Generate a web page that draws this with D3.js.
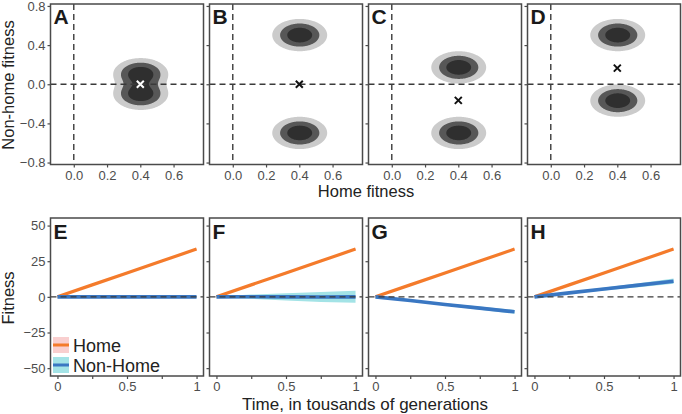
<!DOCTYPE html>
<meta charset="utf-8">
<html>
<head>
  <script src="https://d3js.org/d3.v7.min.js" charset="utf-8"></script>
  <style>
    body { margin: 0; background: #fff; }
    text { font-family: 'Liberation Sans', Arial, sans-serif; }
    .tick-label { font-size: 13px; fill: #4d4d4d; }
    .axis-title { font-size: 16.5px; fill: #222; }
    .panel-letter { font-size: 21px; font-weight: bold; fill: #1a1a1a; }
    .legend-text { font-size: 18px; fill: #222; }
  </style>
</head>
<body>
<script>
  // ---- data ----
  // top row: fitness distributions
  var topLetters = ['A', 'B', 'C', 'D'];
  var blobHome = [0.4, 0.4, 0.4, 0.4];
  var blobNonHome = [[0.1, -0.1], [0.5, -0.5], [0.17, -0.5], [0.5, -0.17]];
  var meanNonHome = [0, 0, -0.165, 0.165];
  var topXTicks = [0, 0.2, 0.4, 0.6];
  var topYTicks = [-0.8, -0.4, 0, 0.4, 0.8];

  // bottom row: fitness over time
  var bottomLetters = ['E', 'F', 'G', 'H'];
  var time = [0, 0.25, 0.5, 0.75, 1];
  var home = [0, 8.4, 16.8, 25.1, 33.5];
  var homeSe = [0, 0.2, 0.3, 0.4, 0.5];
  var nonHome = [
    [0, 0, 0, 0, 0],
    [0, 0.1, 0, -0.1, 0],
    [0, -2.6, -5.3, -7.9, -10.5],
    [0, 2.8, 5.5, 8.2, 11]
  ];
  var nonHomeSe = [
    [0.2, 0.3, 0.4, 0.4, 0.5],
    [0.3, 1.5, 2.6, 3.5, 4.2],
    [0.2, 0.5, 0.8, 1.1, 1.3],
    [0.2, 0.6, 1, 1.4, 1.8]
  ];
  var bottomXTicks = [0, 0.25, 0.5, 0.75, 1];
  var bottomXLabels = ['0', '', '0.5', '', '1'];
  var bottomYTicks = [-50, -25, 0, 25, 50];

  // ---- layout ----
  var W = 682, H = 414;
  var panelLeft = 50.5, panelW = 153, pitch = 159;
  var top1 = 4, bottom1 = 164.5;
  var top2 = 218, bottom2 = 376;
  var frameCol = '#4a4a4a', dashCol = '#3a3a3a';
  var orange = '#f47b2b', blue = '#3a77c2', cyan = '#a3e3e6', pink = '#f9cfcf';
  var greys = ['#cbcbcb', '#575757', '#2f2f2f'];

  var svg = d3.select('body').append('svg')
    .attr('width', W).attr('height', H);

  var fmt1 = d3.format('.1f');
  function minus(s) { return s.replace('-', '\u2212'); }

  // ---- top row ----
  var sigma = 0.07, step = 0.005, gx0 = -0.14, gy0 = -0.82;
  var nx = Math.round(0.92 / step), ny = Math.round(1.64 / step);

  topLetters.forEach(function (letter, k) {
    var left = panelLeft + k * pitch;
    var x = d3.scaleLinear().domain([-0.14, 0.78]).range([left, left + panelW]);
    var y = d3.scaleLinear().domain([-0.82, 0.82]).range([bottom1, top1]);
    var g = svg.append('g');

    // density grid from the two blob centres
    var values = new Float64Array(nx * ny);
    for (var j = 0; j < ny; j++) {
      for (var i = 0; i < nx; i++) {
        var px = gx0 + i * step, py = gy0 + j * step, v = 0;
        blobNonHome[k].forEach(function (by) {
          var dx = px - blobHome[k], dy = py - by;
          v += Math.exp(-(dx * dx + dy * dy) / (2 * sigma * sigma));
        });
        values[j * nx + i] = v;
      }
    }
    var contours = d3.contours().size([nx, ny]).thresholds([0.062, 0.242, 0.565])(values);
    var proj = d3.geoTransform({
      point: function (a, b) { this.stream.point(x(gx0 + a * step), y(gy0 + b * step)); }
    });
    g.selectAll('path.contour')
      .data(contours)
      .enter().append('path')
      .attr('class', 'contour')
      .attr('d', d3.geoPath(proj))
      .attr('fill', function (d, i) { return greys[i]; });

    // dashed reference lines
    g.append('line')
      .attr('x1', x(0)).attr('x2', x(0)).attr('y1', top1).attr('y2', bottom1)
      .attr('stroke', dashCol).attr('stroke-width', 1.4).attr('stroke-dasharray', '6,4');
    g.append('line')
      .attr('x1', left).attr('x2', left + panelW).attr('y1', y(0)).attr('y2', y(0))
      .attr('stroke', dashCol).attr('stroke-width', 1.4).attr('stroke-dasharray', '6,4');

    // mean marker
    var cx = x(blobHome[k]), cy = y(meanNonHome[k]), r = 3.5;
    g.append('path')
      .attr('d', 'M' + (cx - r) + ',' + (cy - r) + 'L' + (cx + r) + ',' + (cy + r) +
        'M' + (cx - r) + ',' + (cy + r) + 'L' + (cx + r) + ',' + (cy - r))
      .attr('stroke', k === 0 ? '#fff' : '#111').attr('stroke-width', 2);

    // frame
    g.append('rect')
      .attr('x', left).attr('y', top1).attr('width', panelW).attr('height', bottom1 - top1)
      .attr('fill', 'none').attr('stroke', frameCol).attr('stroke-width', 1.5);

    // axes
    var ax = g.append('g').attr('transform', 'translate(0,' + bottom1 + ')')
      .call(d3.axisBottom(x).tickValues(topXTicks).tickSize(3).tickPadding(3).tickFormat(fmt1));
    var ay = g.append('g').attr('transform', 'translate(' + left + ',0)')
      .call(d3.axisLeft(y).tickValues(topYTicks).tickSize(3).tickPadding(2)
        .tickFormat(k === 0 ? function (d) { return minus(fmt1(d)); } : ''));
    [ax, ay].forEach(function (a) {
      a.select('.domain').remove();
      a.selectAll('line').attr('stroke', frameCol).attr('stroke-width', 1.2);
      a.selectAll('text').attr('class', 'tick-label').attr('fill', null).attr('font-size', null).attr('font-family', null);
    });

    g.append('text').attr('class', 'panel-letter')
      .attr('x', left + 3).attr('y', top1 + 19.5).text(letter);
  });

  svg.append('text').attr('class', 'axis-title')
    .attr('x', 366).attr('y', 197).attr('text-anchor', 'middle').text('Home fitness');
  svg.append('text').attr('class', 'axis-title')
    .attr('transform', 'translate(13.5,' + 85 + ') rotate(-90)')
    .attr('text-anchor', 'middle').text('Non-home fitness');

  // ---- bottom row ----
  bottomLetters.forEach(function (letter, k) {
    var left = panelLeft + k * pitch;
    var x = d3.scaleLinear().domain([-0.05, 1.05]).range([left, left + panelW]);
    var y = d3.scaleLinear().domain([-55.5, 55.3]).range([bottom2, top2]);
    var g = svg.append('g');

    var area = d3.area()
      .x(function (d, i) { return x(time[i]); });
    var line = d3.line()
      .x(function (d, i) { return x(time[i]); });

    // home band and line
    g.append('path').datum(home)
      .attr('d', area.y0(function (d, i) { return y(d - homeSe[i]); })
        .y1(function (d, i) { return y(d + homeSe[i]); }))
      .attr('fill', pink);
    g.append('path').datum(home)
      .attr('d', line.y(function (d) { return y(d); }))
      .attr('fill', 'none').attr('stroke', orange).attr('stroke-width', 3.2);

    // non-home band and line
    g.append('path').datum(nonHome[k])
      .attr('d', area.y0(function (d, i) { return y(d - nonHomeSe[k][i]); })
        .y1(function (d, i) { return y(d + nonHomeSe[k][i]); }))
      .attr('fill', cyan);
    g.append('path').datum(nonHome[k])
      .attr('d', line.y(function (d) { return y(d); }))
      .attr('fill', 'none').attr('stroke', blue).attr('stroke-width', 3.6);

    // dashed zero line
    g.append('line')
      .attr('x1', left).attr('x2', left + panelW).attr('y1', y(0)).attr('y2', y(0))
      .attr('stroke', dashCol).attr('stroke-width', 1.4).attr('stroke-dasharray', '6,4');

    g.append('rect')
      .attr('x', left).attr('y', top2).attr('width', panelW).attr('height', bottom2 - top2)
      .attr('fill', 'none').attr('stroke', frameCol).attr('stroke-width', 1.5);

    var ax = g.append('g').attr('transform', 'translate(0,' + bottom2 + ')')
      .call(d3.axisBottom(x).tickValues(bottomXTicks).tickSize(3).tickPadding(3)
        .tickFormat(function (d, i) { return bottomXLabels[i]; }));
    var ay = g.append('g').attr('transform', 'translate(' + left + ',0)')
      .call(d3.axisLeft(y).tickValues(bottomYTicks).tickSize(3).tickPadding(2)
        .tickFormat(k === 0 ? function (d) { return minus(String(d)); } : ''));
    [ax, ay].forEach(function (a) {
      a.select('.domain').remove();
      a.selectAll('line').attr('stroke', frameCol).attr('stroke-width', 1.2);
      a.selectAll('text').attr('class', 'tick-label').attr('fill', null).attr('font-size', null).attr('font-family', null);
    });

    g.append('text').attr('class', 'panel-letter')
      .attr('x', left + 3).attr('y', top2 + 21).text(letter);

    // legend in first panel
    if (k === 0) {
      var keys = [
        { label: 'Home', fill: pink, stroke: orange },
        { label: 'Non-Home', fill: cyan, stroke: blue }
      ];
      var lg = g.selectAll('g.key').data(keys).enter().append('g')
        .attr('transform', function (d, i) { return 'translate(' + (left + 2.5) + ',' + (337 + i * 20) + ')'; });
      lg.append('rect').attr('width', 16).attr('height', 16).attr('fill', function (d) { return d.fill; });
      lg.append('line').attr('x1', 0).attr('x2', 16).attr('y1', 8).attr('y2', 8)
        .attr('stroke', function (d) { return d.stroke; }).attr('stroke-width', 3);
      lg.append('text').attr('class', 'legend-text')
        .attr('x', 20).attr('y', 15).text(function (d) { return d.label; });
    }
  });

  svg.append('text').attr('class', 'axis-title')
    .attr('x', 365).attr('y', 410).attr('text-anchor', 'middle')
    .style('font-size', '17px').text('Time, in tousands of generations');
  svg.append('text').attr('class', 'axis-title')
    .attr('transform', 'translate(13.5,' + 298 + ') rotate(-90)')
    .attr('text-anchor', 'middle').text('Fitness');
</script>
</body>
</html>
